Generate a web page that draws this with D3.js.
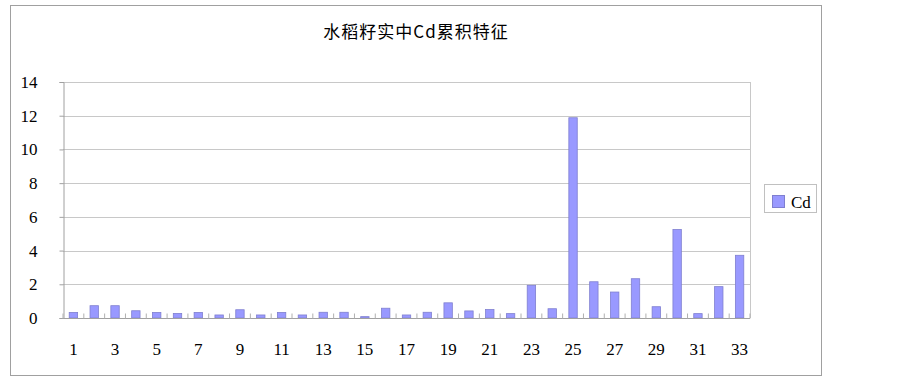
<!DOCTYPE html>
<html><head><meta charset="utf-8">
<script src="https://cdn.jsdelivr.net/npm/d3@7"></script>
<style>body{margin:0;background:#fff;} svg{display:block;} .num{font-family:"Liberation Serif","DejaVu Serif",serif;}</style>
</head><body>
<script>
const categories = d3.range(1, 34).map(String);
const cdValues = [0.33,0.73,0.73,0.43,0.33,0.27,0.33,0.18,0.49,0.18,0.33,0.18,0.34,0.34,0.08,0.58,0.18,0.34,0.9,0.42,0.5,0.26,1.94,0.55,11.88,2.15,1.54,2.33,0.67,5.25,0.26,1.86,3.72];
const yTicks = [0,2,4,6,8,10,12,14];
const xTickLabels = categories.filter((d,i)=>i%2===0);
const seriesName = "Cd";
const title = "水稻籽实中Cd累积特征";

const W=903,H=382;
const svg=d3.select("body").append("svg").attr("width",W).attr("height",H);
svg.append("rect").attr("x",10.5).attr("y",5.5).attr("width",811).attr("height",370)
  .attr("fill","#fff").attr("stroke","#a0a0a0");

const L=63,R=750,T=82,B=318;
const xb=d3.scaleBand().domain(categories).range([L,R]);
const y=d3.scaleLinear().domain([0,14]).range([B,T]);

// gridlines
svg.append("g").selectAll("line").data(yTicks.filter(d=>d>0)).join("line")
  .attr("x1",L).attr("x2",R).attr("y1",d=>Math.round(y(d))+0.5).attr("y2",d=>Math.round(y(d))+0.5)
  .attr("stroke","#c8c8c8").attr("stroke-width",1.2);
svg.append("line").attr("x1",R+0.5).attr("x2",R+0.5).attr("y1",T).attr("y2",B).attr("stroke","#c8c8c8");

// bars
svg.append("g").selectAll("rect").data(cdValues).join("rect")
  .attr("x",(d,i)=>xb(categories[i])+xb.bandwidth()/2-4.2)
  .attr("width",8.4)
  .attr("y",d=>y(d)).attr("height",d=>B-y(d))
  .attr("fill","#9999ff").attr("stroke","#7f7fd0").attr("stroke-width",0.8);

// y axis
const yAxis=d3.axisLeft(y).tickValues(yTicks).tickSize(4).tickPadding(22);
const gy=svg.append("g").attr("transform",`translate(${L+0.5},0)`).call(yAxis);
gy.attr("font-family",null).attr("font-size",null);
gy.select(".domain").attr("stroke","#a0a0a0");
gy.selectAll(".tick line").attr("stroke","#a0a0a0");
gy.selectAll(".tick text").attr("class","num").style("font-size","17px").attr("fill","#000");

// x axis
const gx=svg.append("g").attr("transform",`translate(0,${B+0.5})`);
gx.append("line").attr("x1",L).attr("x2",R).attr("stroke","#a0a0a0");
gx.selectAll("line.tk").data(d3.range(categories.length+1)).join("line").attr("class","tk")
  .attr("x1",i=>L+i*xb.step()).attr("x2",i=>L+i*xb.step()).attr("y1",-5).attr("y2",0)
  .attr("stroke","#b0b0b0");
gx.selectAll("text").data(xTickLabels).join("text").attr("class","num")
  .attr("x",d=>xb(d)+xb.bandwidth()/2).attr("y",36)
  .attr("text-anchor","middle").style("font-size","17px").text(d=>d);

// title
svg.append("text").attr("x",416).attr("y",38).attr("text-anchor","middle")
  .attr("font-family","Noto Sans CJK SC").attr("font-size",17).attr("letter-spacing",1).text(title);

// legend
const lg=svg.append("g");
lg.append("rect").attr("x",764.5).attr("y",184.5).attr("width",52).attr("height",28)
  .attr("fill","#fff").attr("stroke","#c0c0c0");
lg.append("rect").attr("x",772.5).attr("y",195.5).attr("width",12).attr("height",12)
  .attr("fill","#9999ff").attr("stroke","#7f7fd0");
lg.append("text").attr("class","num").attr("x",791).attr("y",207.5)
  .style("font-size","17px").text(seriesName);
</script>
</body></html>
